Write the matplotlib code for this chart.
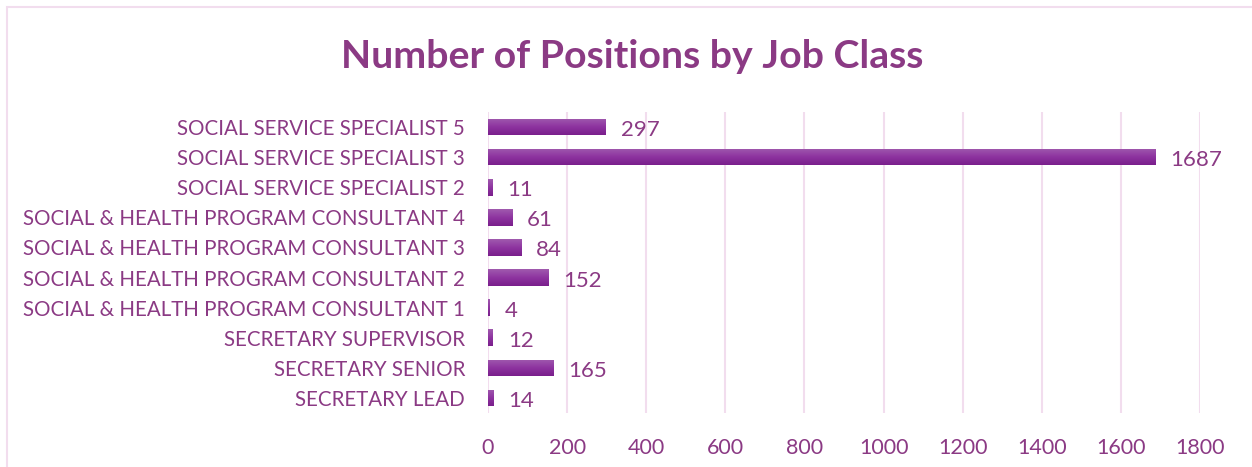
import numpy as np
import matplotlib.pyplot as plt
from matplotlib.patches import Rectangle

job_classes = [
    "SECRETARY LEAD",
    "SECRETARY SENIOR",
    "SECRETARY SUPERVISOR",
    "SOCIAL & HEALTH PROGRAM CONSULTANT 1",
    "SOCIAL & HEALTH PROGRAM CONSULTANT 2",
    "SOCIAL & HEALTH PROGRAM CONSULTANT 3",
    "SOCIAL & HEALTH PROGRAM CONSULTANT 4",
    "SOCIAL SERVICE SPECIALIST 2",
    "SOCIAL SERVICE SPECIALIST 3",
    "SOCIAL SERVICE SPECIALIST 5",
]
positions = [14, 165, 12, 4, 152, 84, 61, 11, 1687, 297]
x_ticks = [0, 200, 400, 600, 800, 1000, 1200, 1400, 1600, 1800]

text_color = "#8B3A84"
grid_color = "#F2DDEE"
plt.rcParams['font.family'] = ['Lato', 'DejaVu Sans']

fig = plt.figure(figsize=(12.52, 4.67), dpi=100)
ax = fig.add_axes([0.3898, 0.1156, 0.5687, 0.6446])

y = np.arange(len(job_classes))
bars = ax.barh(y, positions, height=0.55, color="#8A2C9C", zorder=2)

# vertical gradient inside each bar
grad = np.linspace(0, 1, 64).reshape(-1, 1)
cmap = plt.matplotlib.colors.LinearSegmentedColormap.from_list(
    "bar", ["#7A1F8C", "#8E34A0", "#A05AAE"])
for b in bars:
    x0, y0 = b.get_x(), b.get_y()
    w, h = b.get_width(), b.get_height()
    im = ax.imshow(grad, cmap=cmap, aspect='auto', origin='lower',
                   extent=[x0, x0 + w, y0, y0 + h], zorder=3)
    im.set_clip_path(b)

for yi, v in zip(y, positions):
    ax.text(v + 38, yi - 0.1, str(v), va='center', ha='left',
            fontsize=16, color=text_color)

ax.set_xlim(0, 1800)
ax.set_ylim(-0.5, len(job_classes) - 0.5)
ax.set_yticks(y)
ax.set_yticklabels(job_classes, fontsize=14.8, color=text_color)
ax.set_xticks(x_ticks)
ax.set_xticklabels([str(t) for t in x_ticks], fontsize=15.5, color=text_color)
ax.tick_params(axis='both', length=0)
ax.tick_params(axis='x', pad=18)
ax.tick_params(axis='y', pad=16.5)
ax.xaxis.grid(True, color=grid_color, linewidth=1.5, zorder=0)
ax.set_axisbelow(True)
for s in ax.spines.values():
    s.set_visible(False)

fig.text(0.505, 0.878, "Number of Positions by Job Class", ha='center',
         va='center', fontsize=28.3, fontweight='bold', color=text_color)

fig.patches.append(Rectangle((6.5 / 1252, -0.1), 1.2, 1 - 6.5 / 467 + 0.1,
                             transform=fig.transFigure, fill=False,
                             edgecolor=grid_color, linewidth=1.5))

fig.savefig("out.png", dpi=100)
